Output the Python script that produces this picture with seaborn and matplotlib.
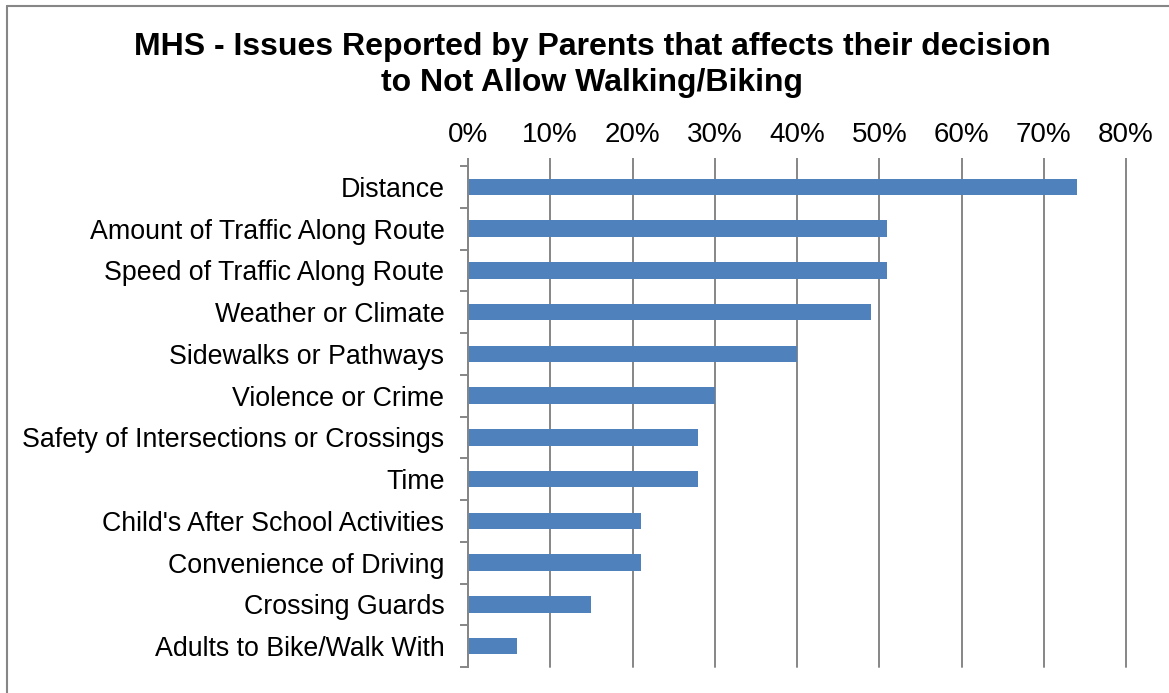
import matplotlib
matplotlib.use("Agg")
import matplotlib.pyplot as plt
import seaborn as sns
import pandas as pd
from matplotlib.lines import Line2D
from matplotlib.ticker import PercentFormatter, FixedLocator

categories = [
    "Distance",
    "Amount of Traffic Along Route",
    "Speed of Traffic Along Route",
    "Weather or Climate",
    "Sidewalks or Pathways",
    "Violence or Crime",
    "Safety of Intersections or Crossings",
    "Time",
    "Child's After School Activities",
    "Convenience of Driving",
    "Crossing Guards",
    "Adults to Bike/Walk With",
]
values = [0.74, 0.51, 0.51, 0.49, 0.40, 0.30, 0.28, 0.28, 0.21, 0.21, 0.15, 0.06]
x_ticks = [0.0, 0.1, 0.2, 0.3, 0.4, 0.5, 0.6, 0.7, 0.8]

title = "MHS - Issues Reported by Parents that affects their decision\nto Not Allow Walking/Biking"

sns.set_theme(style="white")
plt.rcParams["font.family"] = ["Liberation Sans", "DejaVu Sans"]

W, H = 1169, 693
fig = plt.figure(figsize=(W / 100, H / 100), dpi=100)
ax = fig.add_axes([468 / W, 1 - 667 / H, (1126 - 468) / W, (667 - 166) / H])

df = pd.DataFrame({"cat": categories, "val": values})
sns.barplot(data=df, x="val", y="cat", orient="h", color="#4F81BD",
            saturation=1, width=0.39, linewidth=0, ax=ax)

grey = "#868686"
ax.set_xlim(0, 0.8)
ax.xaxis.set_major_locator(FixedLocator(x_ticks))
ax.xaxis.set_major_formatter(PercentFormatter(1.0, decimals=0))
ax.xaxis.tick_top()
ax.xaxis.set_label_position("top")
ax.set_xlabel("")
ax.set_ylabel("")
ax.grid(axis="x", color=grey, linewidth=1.4)
ax.grid(axis="y", visible=False)
ax.set_axisbelow(True)
for line in ax.get_xgridlines():
    line.set_clip_on(False)
for s in ["top", "right", "bottom"]:
    ax.spines[s].set_visible(False)
ax.spines["left"].set_color(grey)
ax.spines["left"].set_linewidth(1.4)

ax.tick_params(axis="x", which="major", length=5.8, width=1.4, color=grey,
               pad=7, labelsize=20, labelcolor="black")
ax.tick_params(axis="y", which="major", length=0, pad=17, labelsize=19.3, labelcolor="black")
n = len(categories)
ax.set_yticks([i - 0.5 for i in range(n + 1)], minor=True)
ax.tick_params(axis="y", which="minor", length=5.8, width=1.4, color=grey, left=True)
ax.set_ylim(n - 0.5, -0.5)

fig.text(592 / W, 1 - 65 / H, title, ha="center", va="center",
         fontsize=23, fontweight="bold", color="black", linespacing=1.27)

# chart border
fig.add_artist(Line2D([7 / W, 7 / W], [0, 1 - 6 / H], color=grey, linewidth=1.5))
fig.add_artist(Line2D([7 / W, 1], [1 - 6 / H, 1 - 6 / H], color=grey, linewidth=1.5))

fig.savefig("out.png", dpi=100)
